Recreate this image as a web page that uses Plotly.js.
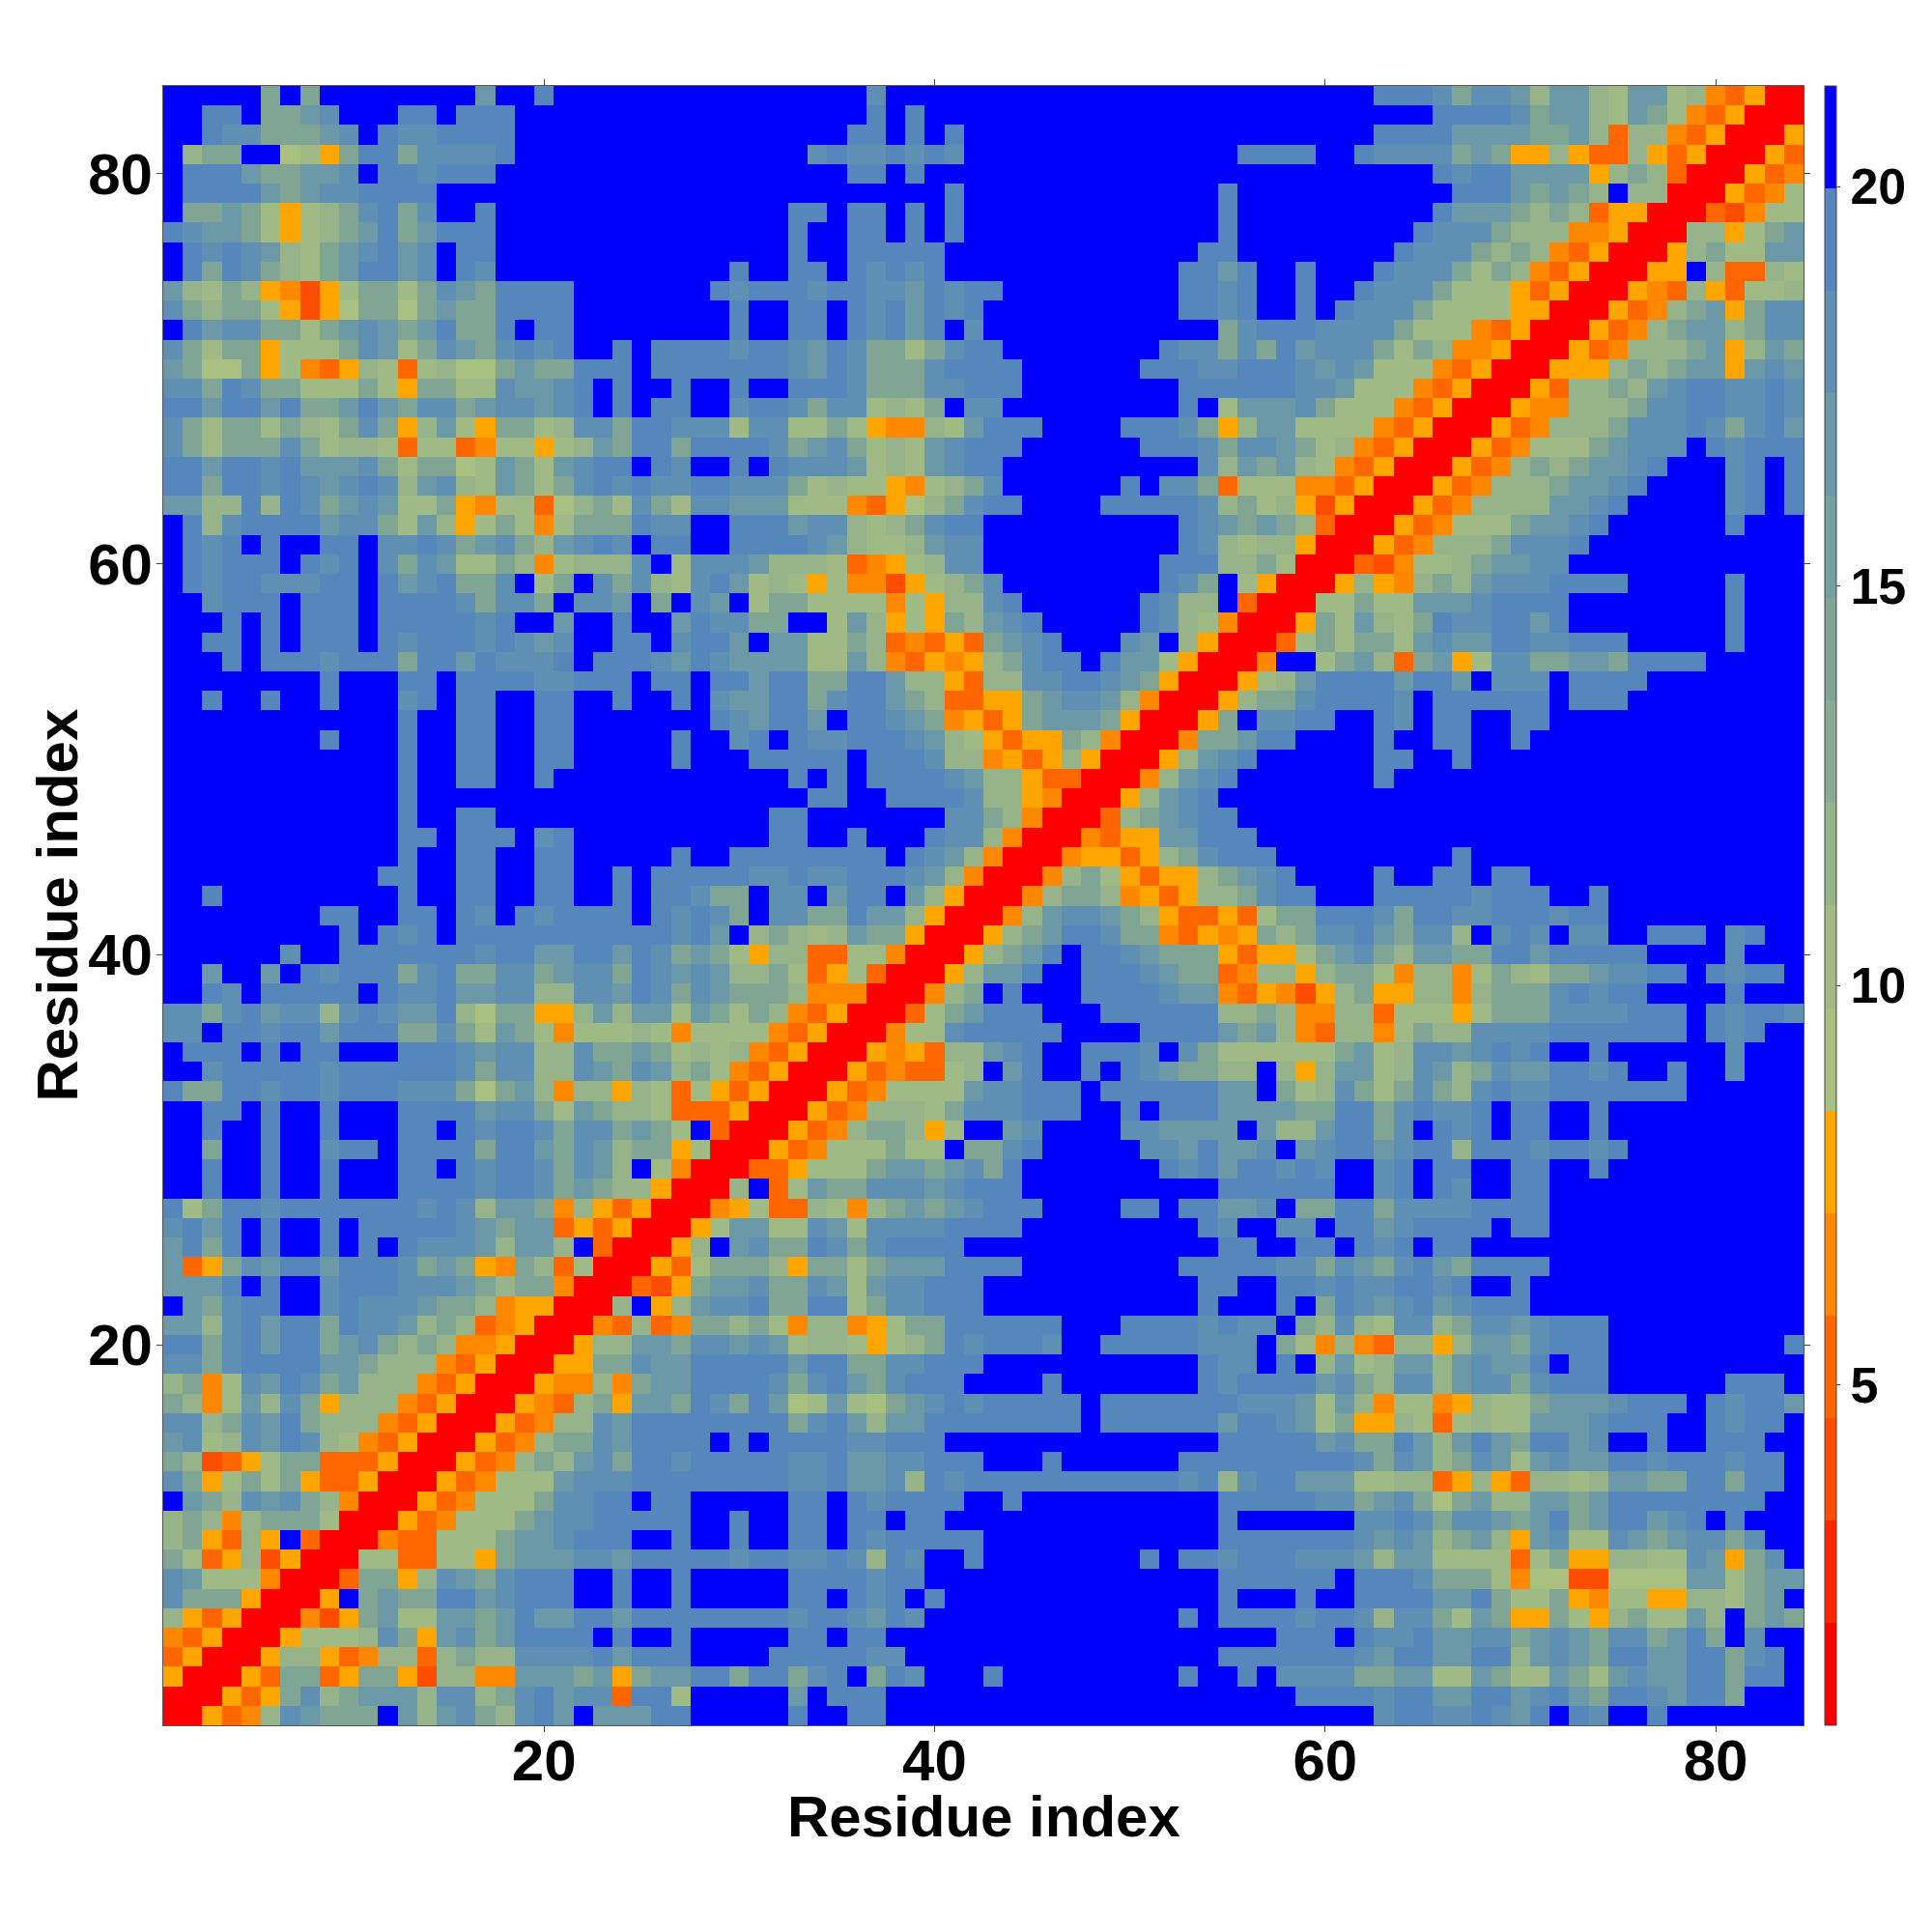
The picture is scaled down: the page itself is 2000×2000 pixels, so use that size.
<!DOCTYPE html>
<html>
<head>
<meta charset="utf-8">
<script src="https://cdn.plot.ly/plotly-3.0.1.min.js"></script>
<style>html,body{margin:0;padding:0;background:#fff}</style>
</head>
<body>
<div id="chart" style="width:2000px;height:2000px"></div>
<script>
// Each row is one horizontal line of the map, from y=84 (top) to y=1 (bottom).
// One character per residue, with a space after residues 28 and 56.
// 0-5 warm bands, 7-d green to steel blue bands, f = beyond the top of the scale.
const mapRows = [
"fffffafaffffffffbffdffffffff ffffffffcfffffffffffffffffff ffffffdddcaccb9bb98bb8943500",
"ffddfaabcfffddfdddffffffffff ffffffffdfdfffffffffffffffff fffffffffddddcabb98ba8435000",
"ffdccaaabcfdccddddffffffffff fffffffddfdfdfffffffffffffff ffffffddddbbbbaab93994350005",
"f9aaff785addaccccdffffffffff fffffcdccdcdcffffffffffffffd dddffdccccaba559533953500053",
"fdddbaabbcfddcdddfffffffffff fffffffddfdfffffffffffffffff fffffffffdcddbbbb59a93000534",
"fddddbabccddddffffffffffffff ffffffffffffdfffffffffffffdf ffffffffffdddbaba9f990005348",
"faaba8589acdacffdfffffffffff ffffddfddfdfdfffffffffffffdf fffffffffdbbba9a935500032488",
"dcbba8589abdabdddfffffffffff ffffdffddfdfdfffffffffffffdf ffffffffdccca9994450009958ab",
"fdcdcb98abcdbcfddfffffffffff ffffdffdddddfffffffffffffddf fffffffdccca9a943500059a88bb",
"fdadca98abddbcfdcfffffffffff fdffddfdcdcdffffffffffffddbd ffdfffdccca8a943500055f93398",
"b98a954258aa8acbaddddfffffff dcdddcddccbdcddfffffffffddcd ffdffdccca888535000543953889",
"ca9aa85257aa7abaaddddfffffff fdffddfdcdbdcdffffffffffddcd ffdfdccca8888550005349ab5acc",
"fdbccaa8abcbabdaadfddfffffff fdffddfdcdbdfcffffffffffffac dddcccca8884350005349abb9acc",
"ca8aa5888acb8acbacdcdffdfddd dcddcbdcaa8acddffffffffdccac adbccca8a9445000534999ab59ba",
"ba77a584359838977abaadddfddd ddddcbdcaaacddddffffffdddccd ddcbcb8884350005559a9abb5bcb",
"ccadcaa888a85aa88cbbcdfdffdf fdffdddcaaaccdddffffffffdddd ddccb8884350005399a9bcddccdc",
"ddbddbdaabdbaccabccbcdfdfddf fcddcacc898afccfffffffffdf8b bbca888435000544999accddccdc",
"ca8aa8a98aca59b85aa89ccaddcc c8cc88a854498bdddffffdddca59 bb8888435000534999acccdcacdb",
"ca8aaaca89983883488589baddad dddcabca898bcdddffffffdddcac cba89435000534888abcccfdcddd",
"ddbddcdbbbca8aa78ba8bcddfdcf fdfdcccb898bcddffffffffffc9b ab984350005349a9abbcdfffcdfd",
"ddaddcdcbcdc9bc98ba8acdcdccd dccca89885489acffffffdfcca38 884435000534999abbcdffffcdfd",
"bb99d9dcabcb88a5488379a8ca8c cbbb88843579acddffffdddddc9a 895250005349999bbcdfffffcdfd",
"fd9cddddbcca8b958a848aaadccf fdddbcc989acddffffffffffdcba ba93000534888abbcdffffffdfff",
"fdcdfdffddfccdcabca9bcdcfddf fddddcb9889bccffffffffffdc98 995000534999acccdfffffffffff",
"fdcdddfdcdfcacb88a948999cf8c ccb999834589ccfffffffffddd99 a8000324889abbccffffffffffff",
"fdcddcccddfdbcdaacf8afcac98c db89858442589acffffffffdcaf8 500059549a9bcccddddfffffdfff",
"ffcdddfdddfddddcaccafccbfafc bf8aa888848599cdffffffdc99f3 00088a88bbbcddddffffffffdfff",
"fffdfdfdddfdddddcdffbffdffbd ccaaff8b9585a9bcdfffffdc9840 005a8b98adccddbdffffffffdfff",
"ffddfdfdddfdcdddcdcbcffddfcd dbfbb88a934353abcdfffcbf9500 038a8aa8bcbbddccdddfffffdfff",
"fffdfdddcdddaddbdcccdfdddcbd cbbbb88b9435459acddfdbb85000 4ff8ab93ab58ccaabbaddddfffff",
"ffffffffdfffddfddddccdddfddf ddbddaaddb995399ccddcba50005 89bddddbddbfcccfddddffffffff",
"ffdffdffdfffcdfddffddffdffdf cbbddacddba93355abccb9400059 aacddddcfddddddfdddfffffffff",
"ffffffffffffdffddffddfffffff dcbddbfddcba4535abbba50005af ccddffdcfddffddfffffffffffff",
"ffffffffdfffdffddffddfffffdf fcdfdccdddcb985355a940004aab ddffffdffddffdffffffffffffff",
"ffffffffffffdffddffddfffffdf ffdddddfdddc9945359500059bcd ffffffddffdfffffffffffffffff",
"ffffffffffffdffddffdffffffff ffffdfdfddddcb9953300049bcdf ffffffdfffffffffffffffffffff",
"ffffffffffffdfffffffffffffff fffffddffddddc995400059bcdff ffffffffffffffffffffffffffff",
"ffffffffffffdffddfffffffffff fffddfffffffcca9400039abcddf ffffffffffffffffffffffffffff",
"ffffffffffffddfdddfcdfffffff fffddffdfffdcc940004355bbddd ffffffffffffffffffffffffffff",
"ffffffffffffdffddffddfffffdf fddddddddfdcb94000455359acdd dfffffffffdfffffffffffffffff",
"fffffffffffddffddffddffdfddd ddccdccdddcb9400049a853559ab cdffffdffddfddffffffffffffff",
"ffdfffffffffdffddffddffdfddc aafccfbddfb9500049aa9453599a cddfffdddddcdddffdffffffffff",
"ffffffffddffddfdcfdcddddfdcd cafccaadbb9500049bccba953353 8aadddcaddccdddcddffffffffff",
"fffffffffdfdcdfdddddddddddcd bf9a989baa500059abddcaa43545 a9accdbacc9fcdcfccffdddfcdff",
"ffffffcffdddddddcddbbddbdcab a85993388400059abdfddcbaaa53 558abca9bbaaddbdddddffffcfff",
"ffbffbfdcdddacdaaccabccadcbc b99a8358300059bbdffdddcbaa34 9959aa849948a98aabccddfdcddf",
"ffdcfdddddfdccdbbcc99ccbdcac baaa944400049afdfffddddcbb43 54259a559949aaacdcddffffdfff",
"ccacdbcc9cdcbbd97aa559b9bb8b a8a943500038abdddfffdddddd99 a94499388858aaaccccdddfdcddc",
"ccfddcddbdddaaca8ba848889848 888435000488cdddddffffddddba b9439948a99ccccdddddddfdcdff",
"fdddfdfddfffdddcbcc99caaba89 89435000545399bcdffdddcfca88 8888ab89ccbcdcdffdffffffcfff",
"ffcdddddcddddddcacc99cbacb9a 84350005343389fbdffdfdcbaa99 f959bb89cb9acbbddcdffdffcfff",
"daaddcddcdddccca7ab949959838 5350005348888bccdddfddddddbb fa89ca8aca9cdccdddddddffffff",
"ffddfdffdfffddddbcca8ba99833 350005349998acccdddffdfdddbb bbaaddacdccdfddffdffffffffff",
"ffdffdffdfffddfdcddcaccaba8f 30005349aa958ffbcffffccbbbbf b99bddacfdcdfddffdffffffffff",
"ffaffdffcddfddddaddbacb9aa58 000534888a88faacdfffffccbdbb cfbcddbcdd9dddcddcdfffffffff",
"ffdffdffdfffddfdcddcacb9f840 00335888abbabcadfffffffdcdbd dcdcffcdfddffddffdffffffffff",
"ffdffdffdfffddddcddcaba99500 09f38baacccbcdddffffffffffdd ddddffcdfdcffddfffffffffffff",
"d8addcdddddddcdc9bba49535000 458339849ababcdddffffddfddbb cfaaddaccccddddfffffffffffff",
"cdbdfdffdfdddddcbabb35350005 8bb88cb8ccccddddfffffffffdcf fccfddbcddddfddfffffffffffff",
"bdadfdffdfdfdcccb9bb9f300059 fbcaadcacddddfffffffffffffdd ffddfdcdfddfffffffffffffffff",
"b35acbddbdddcaba54a938000538 aaa95aa8abbbddddffffffffdddd dccacbacdbaddddfffffffffffff",
"bbbdfdffcdddcccba9aa4000325a bbcaacb8bccdddfffffffffffddf fddcdccddcdffdffffffffffffff",
"fbacddffcdcccbaa94550009f59b ccdaadd8accdddfffffffffffdff fdfadcbcdbcdddffffffffffffff",
"bb9cdbddadccb9a934500043934a a9a8499458aaddddddfffddddcdc cfa9c98cc9accbcdddffffffffff",
"ddacdbddabca9a9445000599bbac cbcb8998589adcdddcffdddddccc fa849439959bbacdddfffffffffd",
"ccacddddbba99943500055aacbbd ddddbddaaccdddfffffffffffdcc fdf9b89bb9bcbbdfddffffffffff",
"9a48cbdcab99943500054494abbd dddcacdbacdddffffdfffffffdcd dddbca9cc9bccacdddffffffdddf",
"a948b9ca59994350005439a5bbad cadb78b87abcdcdddddfdddddddc ccb8b948845988abbbcdddfdcddb",
"cc9acbda99943500053499cbdddd ddddacdb9bbddddddddfddddddbd dcb8a559838988bbbcdddffdcddf",
"bc89cbdc984350005349aacbdddd fdfddddccdddffffffffffffffdd dddbcaadb9bdbaddbcffdffdddff",
"a92358aa33350005349a9bcaddcd ddddccdbbccdddfffdffffffdddd dddddcacb9acb8bcbbddcdddcddf",
"ca58a8a5335000534888bcccdddd ddddccdbbc9dcdddddddddddcd9c ddbbb8899359539989bbaaddaddf",
"fba9cbca94000534888accddfddf ffffddfdcddddffdffffffffffdd dddccabca7ab99bbabddddddddff",
"9a949aaa8000534888abccdddddf fdffddfddfddffffffffffffffdf fffffccdcaccbabdabddbcdfdfff",
"9a5395f3000433888abbcdddffdf fdffddfdcdddddffffffffffffdd dddddcbcb9ab95bc88cbabccacff",
"a8359250008833885abbbccbdddd dcddccdc9dcffdffffffffdfddcd ddcccb9bb888838a559988cb5acf",
"cb88840003aa59cbacdddffdffdf ffffddddcddfffffffffffffffdd ddddfdddcaaa8477227777bb8abb",
"caaa50005fabaaddbcdddffdffdf ffffddfdcdfdffffffffffffffdf ffdffddddbbda88a548855998abf",
"9535000425ab88bbabdbbddbdddd ddddcddcbdcfffffffffffffdfdd ddcddc9cca8ba55a859a88b9faba",
"43500058889ca5bcabddddfdffdf ffffddfddfffffffffffffffffff fdddfdccdbbccabcbaccabdafcff",
"350005995349939a99ccccdbdddf fffdddddccffffffffffffffffdd dddddcbddbbdd9bcbaddbbddacdf",
"500053aa35aa529944bbbab5abbd daddacdfadcfffdfffffffffdffd fccccaabb88ba88ba8bcbbddaddf",
"000535ac9abbb9cc9acdbcc3dd8f ffffbfdddfffffffffffffffffff ffddddcddbbddbcdbaddcbddafff",
"005349cbaaafb9bca9cdbfbbbddf ffffdffddfffffffffffffffffff ffffffcddccdcbdfdcffdfffffff"
];

const bandColors = [
  "#ff0000","#ff2600","#ff4d00","#ff6600","#ff8800","#ffa500",
  "#a8c080","#9fba85","#97b389","#8aab8f","#80a595","#769f9e",
  "#6c99a8","#5f90b4","#5587bc","#0000ff"
];
const zMin = 0.74;
const zMax = 21.26;
const charToBand = {"0":0,"1":1,"2":2,"3":3,"4":4,"5":5,"6":6,"7":6,"8":7,"9":8,"a":10,"b":12,"c":13,"d":14,"e":13,"f":15};

const axisTicks = [20, 40, 60, 80];
const barTicks = [5, 10, 15, 20];
const axisTitle = "Residue index";
const fontFamily = "'Liberation Sans', Arial, sans-serif";

const step = (zMax - zMin) / bandColors.length;
const colorscale = [];
bandColors.forEach((c, i) => {
  colorscale.push([i / bandColors.length, c]);
  colorscale.push([(i + 1) / bandColors.length, c]);
});

const z = mapRows.slice().reverse().map(r =>
  r.replace(/ /g, "").split("").map(ch => zMin + (charToBand[ch] + 0.5) * step)
);
const residues = z.map((_, i) => i + 1);

const axisCommon = {
  range: [0.5, 84.5],
  tickmode: "array",
  tickvals: axisTicks,
  ticks: "outside",
  ticklen: 6,
  tickwidth: 1,
  tickcolor: "#444",
  showgrid: false,
  zeroline: false,
  showline: true,
  linecolor: "#555",
  linewidth: 1,
  mirror: "ticks",
  tickfont: {family: fontFamily, size: 60, color: "#000", weight: 700}
};

const trace = {
  type: "heatmap",
  x: residues,
  y: residues,
  z: z,
  zmin: zMin,
  zmax: zMax,
  colorscale: colorscale,
  hoverongaps: false,
  colorbar: {
    x: 1.013,
    xanchor: "left",
    y: 0.5,
    yanchor: "middle",
    len: 1,
    lenmode: "fraction",
    thickness: 12,
    thicknessmode: "pixels",
    xpad: 0,
    ypad: 0,
    outlinewidth: 1,
    outlinecolor: "#444",
    borderwidth: 0,
    tickmode: "array",
    tickvals: barTicks,
    ticks: "outside",
    ticklen: 4,
    tickwidth: 1,
    tickcolor: "#444",
    tickfont: {family: fontFamily, size: 52, color: "#000", weight: 700}
  }
};

const titleFont = {family: fontFamily, size: 60, color: "#000", weight: 700};

const layout = {
  width: 2000,
  height: 2000,
  margin: {l: 169, r: 133, t: 89, b: 214, pad: 0},
  paper_bgcolor: "#fff",
  plot_bgcolor: "#fff",
  xaxis: Object.assign({}, axisCommon, {domain: [0, 1], ticklabelstandoff: -22}),
  yaxis: Object.assign({}, axisCommon, {domain: [0, 1], ticklabelstandoff: -8}),
  annotations: [
    {text: axisTitle, xref: "paper", yref: "paper", x: 0.5, y: 0, xanchor: "center", yanchor: "top",
     yshift: -59, showarrow: false, font: titleFont},
    {text: axisTitle, xref: "paper", yref: "paper", x: 0, y: 0.5, xanchor: "center", yanchor: "middle",
     xshift: -110, textangle: -90, showarrow: false, font: titleFont}
  ]
};

Plotly.newPlot("chart", [trace], layout, {displayModeBar: false, responsive: false});
</script>
</body>
</html>
